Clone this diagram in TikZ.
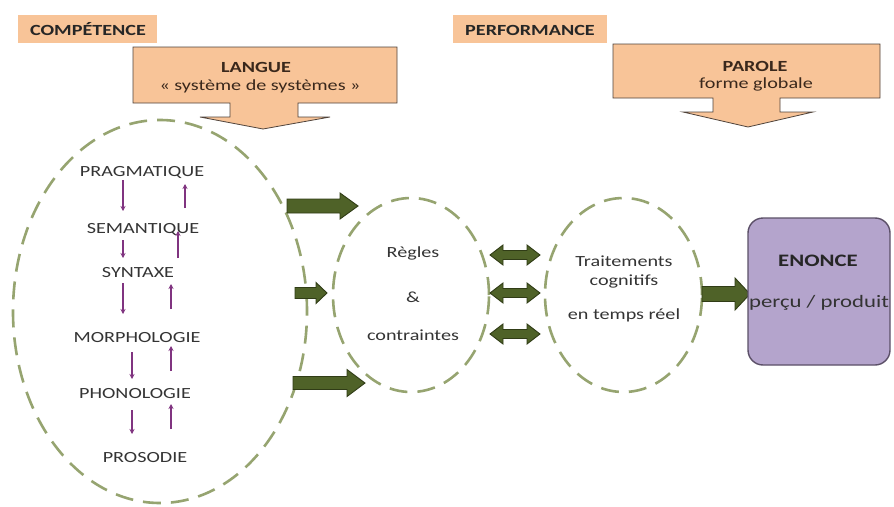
\documentclass[tikz,border=0pt]{standalone}
\usepackage{fontspec}
\setmainfont{Carlito}[FakeStretch=1.3]
\usetikzlibrary{shapes.geometric,arrows.meta}
\definecolor{peach}{RGB}{248,196,152}
\definecolor{peachline}{RGB}{80,68,60}
\definecolor{dashgreen}{RGB}{150,164,112}
\definecolor{olivefill}{RGB}{79,98,40}
\definecolor{olivedraw}{RGB}{48,60,22}
\definecolor{arrowpurple}{RGB}{128,52,128}
\definecolor{lav}{RGB}{180,164,204}
\definecolor{lavline}{RGB}{92,80,104}
\definecolor{txt}{RGB}{52,52,52}
\definecolor{browntxt}{RGB}{58,40,28}
\tikzset{
  base/.style={font=\fontsize{15.5}{18}\selectfont, inner sep=0pt, anchor=base, text=txt},
  titlebox/.style={fill=peach},
  titletxt/.style={base, font=\fontsize{15.5}{18}\selectfont\bfseries, text=black!85},
  callout/.style={fill=peach, draw=peachline, line width=0.8pt},
  callouttxt/.style={base, text=browntxt},
  dashellipse/.style={ellipse, draw=dashgreen, line width=2.6pt, dash pattern=on 18pt off 10pt, inner sep=0pt},
  greenarrow/.style={fill=olivefill, draw=olivedraw, line width=0.9pt, line join=miter},
  levelarrow/.style={draw=arrowpurple, line width=1.3pt, -{Stealth[length=5pt,width=5pt]}},
  enoncebox/.style={rounded corners=15pt, fill=lav, draw=lavline, line width=1.4pt}
}
\newcommand\fatarrow[6]{%
  \draw[greenarrow] (#1,#3-#4) -- (#2-#6,#3-#4) -- (#2-#6,#3-#5) -- (#2,#3) -- (#2-#6,#3+#5) -- (#2-#6,#3+#4) -- (#1,#3+#4) -- cycle;}
\newcommand\fatdarrow[6]{%
  \draw[greenarrow] (#1,#3) -- (#1+#6,#3-#5) -- (#1+#6,#3-#4) -- (#2-#6,#3-#4) -- (#2-#6,#3-#5) -- (#2,#3) -- (#2-#6,#3+#5) -- (#2-#6,#3+#4) -- (#1+#6,#3+#4) -- (#1+#6,#3+#5) -- cycle;}
\begin{document}
\begin{tikzpicture}[x=1pt,y=-1pt]
\useasboundingbox (0,0) rectangle (894,506);
\fill[white] (0,0) rectangle (894,506);

% title boxes
\fill[titlebox] (18,15) rectangle (157,43);
\node[titletxt] (comp) at (88,35) {COMPÉTENCE};
\fill[titlebox] (453,15) rectangle (607,43);
\node[titletxt] (perf) at (530,35) {PERFORMANCE};

% LANGUE callout
\draw[callout] (133,47) -- (397,47) -- (397,103) -- (298,103) -- (298,117) -- (330,117) -- (263,129) -- (200,117) -- (230,117) -- (230,103) -- (133,103) -- cycle;
\node[callouttxt, font=\fontsize{15.5}{18}\selectfont\bfseries] (langue) at (256,72) {LANGUE};
\node[callouttxt] (syst) at (260,90) {« système de systèmes »};

% PAROLE callout
\draw[callout] (613,44) -- (880,44) -- (880,98) -- (780,98) -- (780,112) -- (813,112) -- (748,127) -- (683,112) -- (713,112) -- (713,98) -- (613,98) -- cycle;
\node[callouttxt, font=\fontsize{15.5}{18}\selectfont\bfseries] (parole) at (755,71) {PAROLE};
\node[callouttxt] (forme) at (756,88) {forme globale};

% ellipses
\node[dashellipse, minimum width=294pt, minimum height=383pt] (lang) at (160,311.5) {};
\node[dashellipse, minimum width=156pt, minimum height=194pt] (regles) at (411,295) {};
\node[dashellipse, minimum width=157pt, minimum height=194pt] (trait) at (623.5,295) {};

% levels
\node[base] (prag) at (142,176) {PRAGMATIQUE};
\node[base] (sem) at (143,233) {SEMANTIQUE};
\node[base] (syn) at (138,277) {SYNTAXE};
\node[base] (morph) at (137,342) {MORPHOLOGIE};
\node[base] (phon) at (135,398) {PHONOLOGIE};
\node[base] (pros) at (145,462) {PROSODIE};

\draw[levelarrow] (123,180) -- (123,211);
\draw[levelarrow] (185,208) -- (185,184);
\draw[levelarrow] (123,240) -- (123,258);
\draw[levelarrow] (178,258) -- (178,231);
\draw[levelarrow] (123,283) -- (123,314);
\draw[levelarrow] (171,309) -- (171,284);
\draw[levelarrow] (132,352) -- (132,379);
\draw[levelarrow] (171,371) -- (171,346);
\draw[levelarrow] (132,410) -- (132,434);
\draw[levelarrow] (171,429) -- (171,404);

% rules texts
\node[base] (r1) at (413,257) {Règles};
\node[base] (r2) at (413,302) {\&};
\node[base] (r3) at (413,340) {contraintes};

% traitements texts
\node[base] (t1) at (624,266) {Traitements};
\node[base] (t2) at (624,285) {cognitifs};
\node[base] (t3) at (624,319) {en temps réel};

% green arrows
\fatarrow{287}{358}{206}{7}{13}{18}
\fatarrow{295}{327}{293}{5.5}{10.5}{11}
\fatarrow{293}{365}{383}{6.5}{13.5}{18}
\fatdarrow{490}{540}{255}{4.5}{10}{13}
\fatdarrow{490}{540}{293}{4.5}{10}{13}
\fatdarrow{490}{540}{334}{4.5}{10}{13}
\fatarrow{702}{750}{294}{7.5}{16}{15}

% ENONCE
\draw[enoncebox] (748,218) rectangle (890,365);
\node[base, font=\fontsize{17.5}{20}\selectfont\bfseries, text=black!85] (enonce) at (818,266) {ENONCE};
\node[base, font=\fontsize{17.5}{20}\selectfont, text=black!80] (percu) at (819,307) {perçu / produit};
\end{tikzpicture}
\end{document}
